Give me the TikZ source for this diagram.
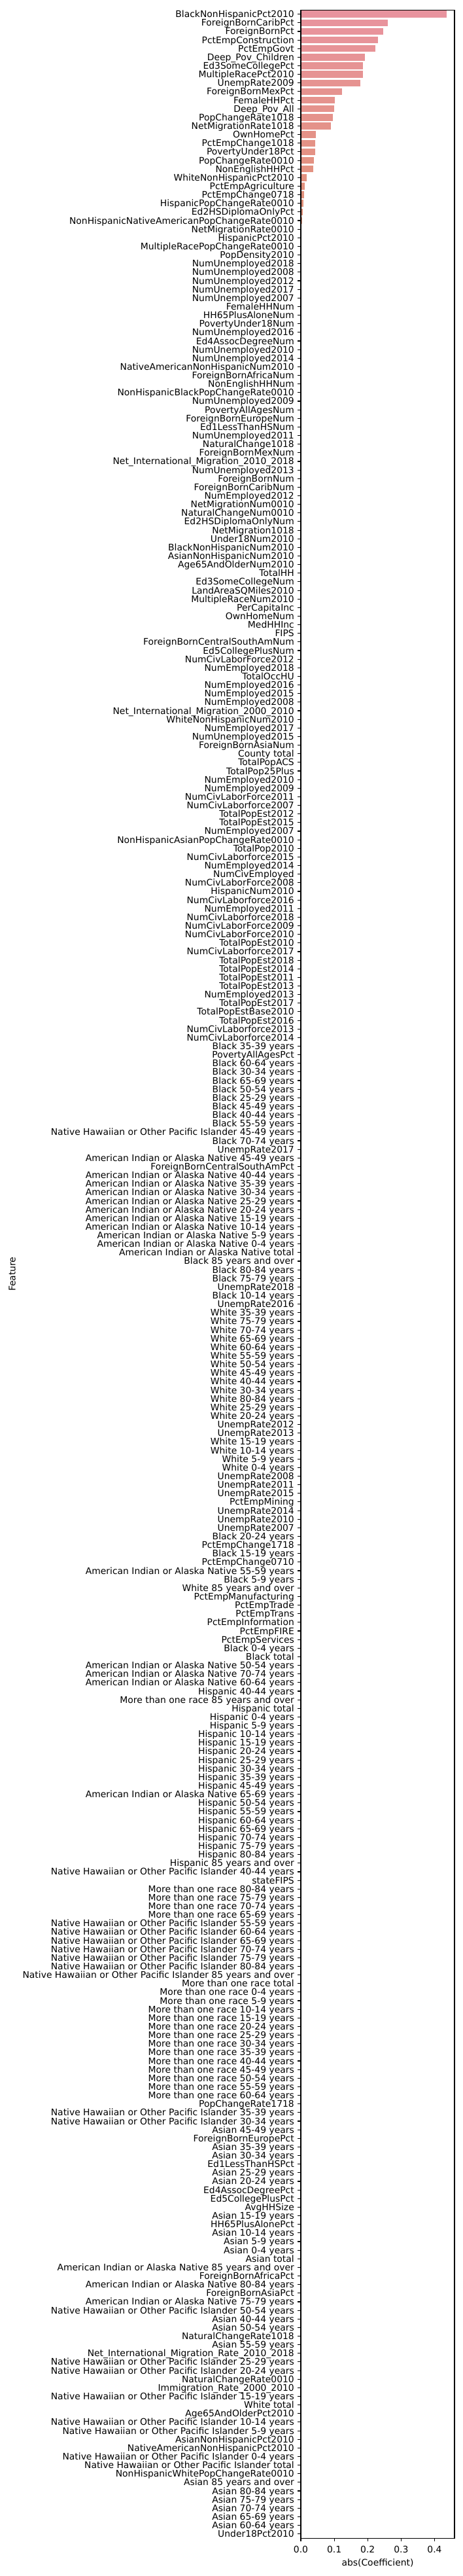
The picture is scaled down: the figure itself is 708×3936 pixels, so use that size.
\documentclass[tikz,border=0pt]{standalone}
\usepackage{fontspec}
\setmainfont{DejaVu Sans}
\definecolor{barA}{HTML}{E8939E}
\definecolor{barB}{HTML}{E2927A}
\tikzset{
  lab/.style={anchor=base east, inner sep=0pt, font=\fontsize{13.9}{16}\selectfont, text=black},
  tk/.style={line width=1.11pt, draw=black},
  spine/.style={line width=1.11pt, draw=black},
  xlab/.style={anchor=base, inner sep=0pt, font=\fontsize{13.9}{16}\selectfont, text=black}
}
\begin{document}
\begin{tikzpicture}[x=1pt,y=-1pt]
\useasboundingbox (0,0) rectangle (708,3936);
\fill[white] (0,0) rectangle (708,3936);
% bars
\foreach \v [count=\i] in {0.4369,0.2603,0.2464,0.2310,0.2233,0.1919,0.1856,0.1856,0.1780,0.1228,0.1013,0.0998,0.0956,0.0900,0.0447,0.0426,0.0426,0.0391,0.0370,0.0175,0.0112,0.0091,0.0077,0.0056,0.0030,0.0020,0.0010} {
  \pgfmathsetmacro\ytop{15.1+(\i-0.5)*13.14-5.26}
  \pgfmathsetmacro\wd{\v*511.3}
  \pgfmathtruncatemacro\p{100-min(100,(\i-1)*100/23)}
  \fill[barA!\p!barB] (460,\ytop) rectangle ++(\wd,10.52);
}
% y tick labels and ticks
\foreach \t [count=\i] in {
BlackNonHispanicPct2010,ForeignBornCaribPct,ForeignBornPct,PctEmpConstruction,PctEmpGovt,Deep\_Pov\_Children,Ed3SomeCollegePct,MultipleRacePct2010,UnempRate2009,ForeignBornMexPct,
FemaleHHPct,Deep\_Pov\_All,PopChangeRate1018,NetMigrationRate1018,OwnHomePct,PctEmpChange1018,PovertyUnder18Pct,PopChangeRate0010,NonEnglishHHPct,WhiteNonHispanicPct2010,
PctEmpAgriculture,PctEmpChange0718,HispanicPopChangeRate0010,Ed2HSDiplomaOnlyPct,NonHispanicNativeAmericanPopChangeRate0010,NetMigrationRate0010,HispanicPct2010,MultipleRacePopChangeRate0010,PopDensity2010,NumUnemployed2018,
NumUnemployed2008,NumUnemployed2012,NumUnemployed2017,NumUnemployed2007,FemaleHHNum,HH65PlusAloneNum,PovertyUnder18Num,NumUnemployed2016,Ed4AssocDegreeNum,NumUnemployed2010,
NumUnemployed2014,NativeAmericanNonHispanicNum2010,ForeignBornAfricaNum,NonEnglishHHNum,NonHispanicBlackPopChangeRate0010,NumUnemployed2009,PovertyAllAgesNum,ForeignBornEuropeNum,Ed1LessThanHSNum,NumUnemployed2011,
NaturalChange1018,ForeignBornMexNum,Net\_International\_Migration\_2010\_2018,NumUnemployed2013,ForeignBornNum,ForeignBornCaribNum,NumEmployed2012,NetMigrationNum0010,NaturalChangeNum0010,Ed2HSDiplomaOnlyNum,
NetMigration1018,Under18Num2010,BlackNonHispanicNum2010,AsianNonHispanicNum2010,Age65AndOlderNum2010,TotalHH,Ed3SomeCollegeNum,LandAreaSQMiles2010,MultipleRaceNum2010,PerCapitaInc,
OwnHomeNum,MedHHInc,FIPS,ForeignBornCentralSouthAmNum,Ed5CollegePlusNum,NumCivLaborForce2012,NumEmployed2018,TotalOccHU,NumEmployed2016,NumEmployed2015,
NumEmployed2008,Net\_International\_Migration\_2000\_2010,WhiteNonHispanicNum2010,NumEmployed2017,NumUnemployed2015,ForeignBornAsiaNum,County total,TotalPopACS,TotalPop25Plus,NumEmployed2010,
NumEmployed2009,NumCivLaborForce2011,NumCivLaborforce2007,TotalPopEst2012,TotalPopEst2015,NumEmployed2007,NonHispanicAsianPopChangeRate0010,TotalPop2010,NumCivLaborforce2015,NumEmployed2014,
NumCivEmployed,NumCivLaborForce2008,HispanicNum2010,NumCivLaborforce2016,NumEmployed2011,NumCivLaborforce2018,NumCivLaborForce2009,NumCivLaborForce2010,TotalPopEst2010,NumCivLaborforce2017,
TotalPopEst2018,TotalPopEst2014,TotalPopEst2011,TotalPopEst2013,NumEmployed2013,TotalPopEst2017,TotalPopEstBase2010,TotalPopEst2016,NumCivLaborforce2013,NumCivLaborforce2014,
Black 35-39 years,PovertyAllAgesPct,Black 60-64 years,Black 30-34 years,Black 65-69 years,Black 50-54 years,Black 25-29 years,Black 45-49 years,Black 40-44 years,Black 55-59 years,
Native Hawaiian or Other Pacific Islander 45-49 years,Black 70-74 years,UnempRate2017,American Indian or Alaska Native 45-49 years,ForeignBornCentralSouthAmPct,American Indian or Alaska Native 40-44 years,American Indian or Alaska Native 35-39 years,American Indian or Alaska Native 30-34 years,American Indian or Alaska Native 25-29 years,American Indian or Alaska Native 20-24 years,
American Indian or Alaska Native 15-19 years,American Indian or Alaska Native 10-14 years,American Indian or Alaska Native 5-9 years,American Indian or Alaska Native 0-4 years,American Indian or Alaska Native total,Black 85 years and over,Black 80-84 years,Black 75-79 years,UnempRate2018,Black 10-14 years,
UnempRate2016,White 35-39 years,White 75-79 years,White 70-74 years,White 65-69 years,White 60-64 years,White 55-59 years,White 50-54 years,White 45-49 years,White 40-44 years,
White 30-34 years,White 80-84 years,White 25-29 years,White 20-24 years,UnempRate2012,UnempRate2013,White 15-19 years,White 10-14 years,White 5-9 years,White 0-4 years,
UnempRate2008,UnempRate2011,UnempRate2015,PctEmpMining,UnempRate2014,UnempRate2010,UnempRate2007,Black 20-24 years,PctEmpChange1718,Black 15-19 years,
PctEmpChange0710,American Indian or Alaska Native 55-59 years,Black 5-9 years,White 85 years and over,PctEmpManufacturing,PctEmpTrade,PctEmpTrans,PctEmpInformation,PctEmpFIRE,PctEmpServices,
Black 0-4 years,Black total,American Indian or Alaska Native 50-54 years,American Indian or Alaska Native 70-74 years,American Indian or Alaska Native 60-64 years,Hispanic 40-44 years,More than one race 85 years and over,Hispanic total,Hispanic 0-4 years,Hispanic 5-9 years,
Hispanic 10-14 years,Hispanic 15-19 years,Hispanic 20-24 years,Hispanic 25-29 years,Hispanic 30-34 years,Hispanic 35-39 years,Hispanic 45-49 years,American Indian or Alaska Native 65-69 years,Hispanic 50-54 years,Hispanic 55-59 years,
Hispanic 60-64 years,Hispanic 65-69 years,Hispanic 70-74 years,Hispanic 75-79 years,Hispanic 80-84 years,Hispanic 85 years and over,Native Hawaiian or Other Pacific Islander 40-44 years,stateFIPS,More than one race 80-84 years,More than one race 75-79 years,
More than one race 70-74 years,More than one race 65-69 years,Native Hawaiian or Other Pacific Islander 55-59 years,Native Hawaiian or Other Pacific Islander 60-64 years,Native Hawaiian or Other Pacific Islander 65-69 years,Native Hawaiian or Other Pacific Islander 70-74 years,Native Hawaiian or Other Pacific Islander 75-79 years,Native Hawaiian or Other Pacific Islander 80-84 years,Native Hawaiian or Other Pacific Islander 85 years and over,More than one race total,
More than one race 0-4 years,More than one race 5-9 years,More than one race 10-14 years,More than one race 15-19 years,More than one race 20-24 years,More than one race 25-29 years,More than one race 30-34 years,More than one race 35-39 years,More than one race 40-44 years,More than one race 45-49 years,
More than one race 50-54 years,More than one race 55-59 years,More than one race 60-64 years,PopChangeRate1718,Native Hawaiian or Other Pacific Islander 35-39 years,Native Hawaiian or Other Pacific Islander 30-34 years,Asian 45-49 years,ForeignBornEuropePct,Asian 35-39 years,Asian 30-34 years,
Ed1LessThanHSPct,Asian 25-29 years,Asian 20-24 years,Ed4AssocDegreePct,Ed5CollegePlusPct,AvgHHSize,Asian 15-19 years,HH65PlusAlonePct,Asian 10-14 years,Asian 5-9 years,
Asian 0-4 years,Asian total,American Indian or Alaska Native 85 years and over,ForeignBornAfricaPct,American Indian or Alaska Native 80-84 years,ForeignBornAsiaPct,American Indian or Alaska Native 75-79 years,Native Hawaiian or Other Pacific Islander 50-54 years,Asian 40-44 years,Asian 50-54 years,
NaturalChangeRate1018,Asian 55-59 years,Net\_International\_Migration\_Rate\_2010\_2018,Native Hawaiian or Other Pacific Islander 25-29 years,Native Hawaiian or Other Pacific Islander 20-24 years,NaturalChangeRate0010,Immigration\_Rate\_2000\_2010,Native Hawaiian or Other Pacific Islander 15-19 years,White total,Age65AndOlderPct2010,
Native Hawaiian or Other Pacific Islander 10-14 years,Native Hawaiian or Other Pacific Islander 5-9 years,AsianNonHispanicPct2010,NativeAmericanNonHispanicPct2010,Native Hawaiian or Other Pacific Islander 0-4 years,Native Hawaiian or Other Pacific Islander total,NonHispanicWhitePopChangeRate0010,Asian 85 years and over,Asian 80-84 years,Asian 75-79 years,
Asian 70-74 years,Asian 65-69 years,Asian 60-64 years,Under18Pct2010} {
  \pgfmathsetmacro\yc{15.1+(\i-0.5)*13.14}
  \pgfmathsetmacro\yb{\yc+5.0}
  \node[lab] (lab\i) at (450,\yb) {\t};
  \coordinate (tka\i) at (455.1,\yc);
  \coordinate (tkb\i) at (460,\yc);
  \draw[tk] (tka\i) -- (tkb\i);
}
% axes frame
\draw[spine] (460,15.1) rectangle (695,3878.3);
% x ticks
\foreach \k/\l in {0/0.0,1/0.1,2/0.2,3/0.3,4/0.4} {
  \pgfmathsetmacro\xx{460+\k*51.13}
  \coordinate (xa\k) at (\xx,3878.3);
  \coordinate (xb\k) at (\xx,3883.2);
  \draw[tk] (xa\k) -- (xb\k);
  \node[xlab] (xl\k) at (\xx,3900) {\l};
}
\node[xlab] (xlabel) at (577.5,3920.5) {abs(Coefficient)};
\node[xlab, rotate=90] (ylabel) at (23.5,1946.7) {Feature};
\end{tikzpicture}
\end{document}
